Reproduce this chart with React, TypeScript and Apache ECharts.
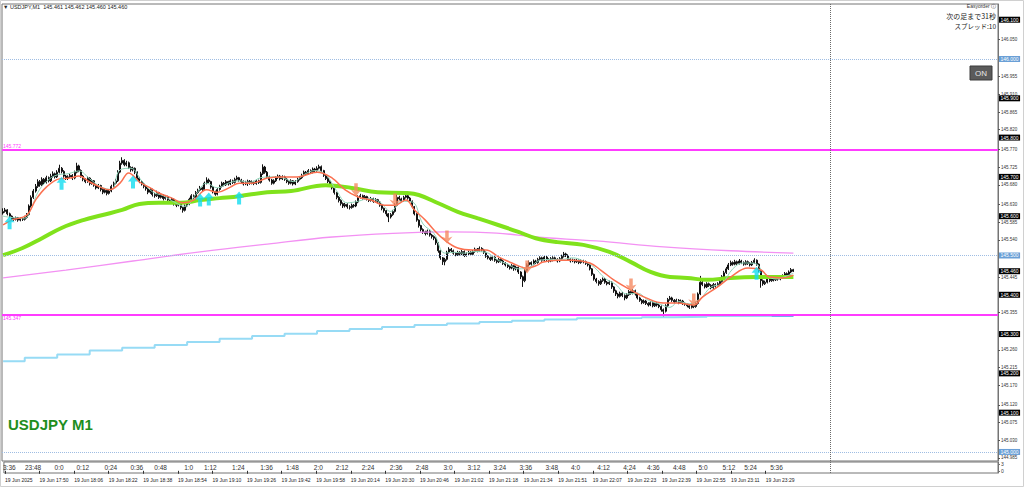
import React, { useEffect, useRef } from "react";
import * as echarts from "echarts";

// prices in thousandths above 145.000
const firstOpen = 608;
const closes = [
612,616,606,600,594,592,596,590,594,592,
597,604,626,648,664,676,688,680,694,686,
698,690,702,708,700,712,722,714,702,696,
700,704,697,712,728,716,702,694,688,697,
683,690,679,672,678,668,661,666,658,664,
676,684,690,712,735,742,731,736,724,718,
722,712,697,688,682,676,670,661,668,655,
652,660,648,654,645,650,641,636,643,632,
628,634,622,615,626,631,643,652,648,660,
666,672,668,684,692,688,674,662,656,668,
676,684,680,688,682,690,686,694,698,692,
688,682,686,689,684,687,683,690,686,
708,725,712,700,692,684,690,698,702,695,
700,694,688,684,690,682,688,694,698,704,
712,708,716,712,720,716,722,726,716,704,
696,688,680,672,660,648,640,632,626,630,
624,622,628,626,636,648,652,646,650,644,
640,645,638,642,636,628,620,614,606,598,
604,612,628,648,644,640,648,652,646,638,
624,606,590,576,566,560,556,562,552,548,
544,532,512,494,484,490,508,516,512,506,
502,508,504,510,500,504,508,503,510,
516,512,518,514,508,498,494,490,496,488,
484,490,486,480,476,472,468,474,466,470,
458,446,436,462,476,482,478,486,482,490,
494,488,496,490,486,492,494,490,486,
492,498,504,500,490,486,488,484,487,482,
486,484,480,476,466,452,440,434,428,436,
440,432,428,432,420,410,402,396,404,398,
392,400,408,404,410,402,392,386,380,384,
378,374,380,372,378,374,370,362,358,
372,388,392,386,382,386,380,384,378,376,
372,368,374,370,378,402,432,426,420,428,
424,418,426,422,428,434,446,456,466,476,
482,478,484,480,486,482,478,484,480,476,
482,488,478,462,436,428,432,440,436,442,
438,442,440,444,448,454,450,458,464,460];
const highs = [
620,621,618,609,602,597,599,598,597,596,
601,608,630,653,669,682,694,692,699,697,
703,701,708,714,711,717,731,725,717,705,
704,708,707,716,736,731,719,705,697,701,
699,694,692,682,682,680,671,670,668,668,
680,688,695,717,741,750,745,741,739,727,
726,724,714,700,691,685,679,672,672,670,
659,665,662,658,656,654,652,644,647,645,
635,638,636,624,630,635,647,656,655,664,
670,677,675,688,699,696,690,676,665,672,
680,688,687,692,690,694,693,698,703,700,
695,691,690,693,692,691,690,694,693,
713,732,728,715,703,695,694,702,706,705,
704,703,697,691,694,692,692,698,702,708,
716,715,720,719,724,723,727,731,729,718,
707,699,691,683,674,662,651,643,635,634,
633,628,632,631,640,653,657,655,654,652,
647,649,647,646,644,638,630,622,616,608,
608,616,633,660,652,647,652,658,655,649,
640,626,608,592,578,569,563,566,564,555,
551,546,534,514,496,494,512,521,519,515,
509,512,511,514,513,508,512,511,514,
520,519,523,521,517,510,501,497,500,498,
491,494,493,489,483,479,475,478,476,474,
472,460,449,466,480,487,485,490,489,494,
498,497,500,499,493,496,498,497,493,
496,502,509,507,503,493,492,491,491,490,
490,489,487,483,478,468,454,443,437,440,
444,443,435,436,434,422,413,405,408,407,
401,404,412,411,414,413,405,395,389,388,
387,381,384,383,382,381,377,373,365,
376,392,397,395,389,390,389,388,387,381,
379,375,378,377,382,406,448,436,429,432,
431,427,430,429,432,438,450,461,471,481,
487,485,489,487,491,489,485,488,487,483,
486,493,490,480,464,439,436,444,443,446,
445,446,445,448,452,458,457,462,468,466];
const lows = [
604,609,602,596,590,588,589,586,587,588,
589,594,601,622,644,660,672,675,677,681,
683,686,687,698,696,697,709,709,698,692,
692,697,692,694,709,712,698,689,684,685,
678,680,675,668,669,663,656,658,653,655,
661,673,681,687,709,731,727,727,720,713,
714,707,693,684,678,671,665,656,657,650,
647,649,644,645,640,642,636,631,633,627,
623,625,617,609,612,623,628,640,644,645,
657,663,664,665,681,684,670,658,652,653,
665,673,676,677,678,679,682,683,691,688,
684,678,679,677,680,681,679,680,682,
683,705,708,696,688,680,681,687,695,691,
692,690,684,680,681,678,679,685,691,695,
701,704,705,708,709,712,713,719,712,700,
692,684,676,668,655,643,635,627,621,622,
619,617,619,622,623,633,645,642,643,640,
636,637,634,635,632,624,615,609,600,585,
594,601,609,625,640,636,637,645,642,634,
620,602,586,571,561,555,551,553,548,543,
539,527,507,489,476,475,487,505,508,502,
498,499,500,501,496,497,501,499,500,
507,508,509,510,504,494,490,486,487,484,
480,481,482,476,472,468,464,465,461,462,
453,440,420,432,459,472,474,475,478,479,
487,484,485,486,482,483,485,486,482,
483,489,495,496,486,482,483,480,481,478,
479,480,476,472,462,448,436,429,423,425,
433,428,424,425,415,405,397,391,393,394,
386,389,397,400,401,398,388,382,376,377,
374,370,371,368,369,370,366,357,344,
355,369,385,382,378,379,376,377,374,372,
368,364,365,366,367,375,399,422,416,417,
420,414,415,418,419,425,431,443,453,463,
473,474,475,476,477,478,474,475,476,472,
473,479,474,457,418,423,425,429,432,433,
434,435,436,437,441,445,446,447,455,458];

// indicator readings: [bar, thousandths above 145]
const maFast = [[0,578],[4,590],[11,603],[15,641],[20,674],[26,695],[31,697],[35,702],[40,687],[45,674],[49,667],[54,684],[58,710],[63,687],[68,672],[72,659],[78,646],[83,634],[88,641],[94,667],[99,661],[105,674],[109,684],[115,684],[122,697],[129,700],[136,700],[145,712],[152,697],[158,667],[164,649],[170,641],[176,628],[181,628],[186,641],[190,616],[195,590],[199,565],[204,539],[210,519],[217,514],[223,514],[229,496],[235,481],[242,468],[247,476],[249,483],[256,488],[263,488],[271,481],[276,463],[282,438],[290,412],[297,392],[305,379],[311,379],[319,374],[323,394],[330,420],[336,445],[344,468],[350,463],[354,445],[360,443],[365,450]];
const maPale = [[0,600],[5,596],[10,595],[13,620],[16,660],[20,688],[25,705],[30,708],[35,715],[40,695],[45,675],[50,668],[54,718],[59,722],[64,690],[69,662],[74,652],[79,636],[84,625],[89,655],[94,684],[99,672],[104,684],[109,690],[114,686],[119,698],[124,700],[129,698],[134,688],[139,706],[144,716],[149,706],[154,665],[159,634],[164,638],[169,645],[174,636],[179,612],[184,638],[189,636],[194,580],[199,556],[204,506],[208,508],[213,506],[218,510],[223,508],[228,490],[233,478],[238,466],[243,470],[248,488],[253,490],[258,490],[263,494],[268,486],[273,470],[278,442],[283,426],[288,402],[293,404],[298,386],[303,377],[308,368],[312,383],[317,377],[322,390],[327,420],[332,428],[337,466],[342,481],[347,480],[352,452],[357,440],[362,448],[365,455]];
const maSlow = [[0,501],[9,519],[18,544],[27,570],[37,590],[46,603],[55,616],[63,631],[72,634],[82,634],[91,641],[100,646],[109,651],[122,661],[133,664],[149,679],[161,672],[173,661],[186,659],[192,654],[201,633],[210,611],[219,595],[229,577],[238,560],[246,544],[256,534],[268,527],[280,509],[290,483],[299,458],[308,445],[316,443],[325,438],[336,443],[348,445],[358,445],[365,445]];
const maLong = [[0,443],[29,463],[60,486],[91,509],[122,529],[152,547],[183,557],[205,560],[228,557],[246,547],[274,537],[305,522],[336,512],[365,506]];
const htfLine = [[0,231],[10,240],[25,248],[40,258],[55,265],[70,272],[85,280],[100,288],[115,295],[130,301],[145,308],[160,313],[175,318],[190,323],[205,327],[220,331],[235,334],[250,337],[265,340],[280,341],[295,343],[310,344],[325,346],[365,346]];
const htfCurrent = [[355,347],[365,347]];
const buyArrows = [[3,583],[27,684],[60,687],[91,641],[95,644],[109,646],[348,455]];
const sellArrows = [[163,667],[181,641],[205,547],[242,471],[290,425],[319,387]];

const priceTicks = [144.985,145.030,145.075,145.120,145.170,145.215,145.260,145.355,145.445,145.540,145.585,145.630,145.680,145.725,145.770,145.820,145.865,145.910,145.955,146.050];
const roundLevels = [146.1,145.9,145.8,145.7,145.6,145.4,145.3,145.2,145.1];
const dottedLevels = [146.0,145.5,145.0];
const bidPrice = 145.46;
const bandHigh = 145.772;
const bandLow = 145.347;
const nowBar = 382;

const slotCount = 460;
const dateTickStep = 16;
const dateLabels = ["19 Jun 2025","19 Jun 17:50","19 Jun 18:06","19 Jun 18:22","19 Jun 18:38","19 Jun 18:54","19 Jun 19:10","19 Jun 19:26","19 Jun 19:42","19 Jun 19:58","19 Jun 20:14","19 Jun 20:30","19 Jun 20:46","19 Jun 21:02","19 Jun 21:18","19 Jun 21:34","19 Jun 21:51","19 Jun 22:07","19 Jun 22:23","19 Jun 22:39","19 Jun 22:55","19 Jun 23:11","19 Jun 23:29"];
const subLabelBars = [2,13,25,36,49,61,72,85,95,108,121,133,145,156,168,181,193,205,217,229,241,253,264,277,289,300,312,323,335,345,357];
const subLabelTexts = ["3:36","23:48","0:0","0:12","0:24","0:36","0:48","1:0","1:12","1:24","1:36","1:48","2:0","2:12","2:24","2:36","2:48","3:0","3:12","3:24","3:36","3:48","4:0","4:12","4:24","4:36","4:48","5:0","5:12","5:24","5:36"];

const PX = (v: number) => 145 + v / 1000;
const FONT = "Liberation Sans";

export default function App() {
  const ref = useRef<HTMLDivElement>(null);
  useEffect(() => {
    if (!ref.current) return;
    const chart = echarts.init(ref.current, undefined, { renderer: "svg" });
    const cats = Array.from({ length: slotCount }, (_, i) => String(i));
    const dateCats = cats.map((_, i) => (i % dateTickStep === 0 && dateLabels[i / dateTickStep]) ? dateLabels[i / dateTickStep] : "");
    const subCats = cats.map(() => "");
    subLabelBars.forEach((b, k) => { subCats[b] = subLabelTexts[k]; });
    const candles = closes.map((c, i) => [PX(i === 0 ? firstOpen : closes[i - 1]), PX(c), PX(lows[i]), PX(highs[i])]);
    const conv = (arr: number[][]) => arr.map(([b, v]) => [b, PX(v)]);
    const showNonEmpty = (_: number, v: string) => v !== "";
    const upArrow = "path://M5,0 L10,5.5 L7,5.5 L7,12 L3,12 L3,5.5 L0,5.5 Z";
    const downArrow = "path://M5,12 L10,5.5 L6.6,6.8 L6.6,0 L3.4,0 L3.4,6.8 L0,5.5 Z";
    const boxLabel = (bg: string) => ({
      show: true, position: "end", distance: 1, formatter: (p: any) => Number(p.value).toFixed(3),
      color: "#fff", backgroundColor: bg, padding: [1, 1.5, 0, 1.5], fontSize: 5, fontFamily: FONT,
    });
    const markData: any[] = [];
    roundLevels.forEach((v) => markData.push({ yAxis: v, lineStyle: { color: "rgba(0,0,0,0)", width: 0 }, label: boxLabel("#000") }));
    markData.push({ yAxis: bidPrice, lineStyle: { color: "rgba(0,0,0,0)", width: 0 }, label: boxLabel("#000") });
    dottedLevels.forEach((v) => markData.push({ yAxis: v, lineStyle: { color: "#9fbde3", width: 1, type: "dotted" }, label: boxLabel("#6a9fd6") }));
    markData.push({ yAxis: bandHigh, lineStyle: { color: "#ff3cff", width: 2, type: "solid" }, label: { show: true, position: "insideStartTop", distance: 1, formatter: bandHigh.toFixed(3), color: "#ff3cff", fontSize: 5, fontFamily: FONT } });
    markData.push({ yAxis: bandLow, lineStyle: { color: "#ff3cff", width: 2, type: "solid" }, label: { show: true, position: "insideStartBottom", distance: 1, formatter: bandLow.toFixed(3), color: "#ff3cff", fontSize: 5, fontFamily: FONT } });
    markData.push({ xAxis: nowBar, lineStyle: { color: "#6a6a6a", width: 1, type: "dotted" }, label: { show: false } });

    const option: any = {
      animation: false,
      backgroundColor: "#ffffff",
      textStyle: { fontFamily: FONT },
      grid: [
        { left: 2, right: 26, top: 4, bottom: 26, show: true, borderColor: "#747474", borderWidth: 1 },
        { left: 2, right: 26, top: 462, height: 11, show: true, borderColor: "#747474", borderWidth: 1 },
      ],
      xAxis: [
        { type: "category", gridIndex: 0, data: cats, boundaryGap: true, axisLine: { show: false }, axisTick: { show: false }, axisLabel: { show: false }, splitLine: { show: false } },
        { type: "category", gridIndex: 1, data: dateCats, boundaryGap: true, position: "bottom", axisLine: { show: false },
          axisTick: { show: true, alignWithLabel: true, interval: showNonEmpty, length: 3, lineStyle: { color: "#333" } },
          axisLabel: { interval: showNonEmpty, align: "left", fontSize: 5, margin: 4, color: "#222", fontFamily: FONT }, splitLine: { show: false } },
        { type: "category", gridIndex: 1, data: subCats, boundaryGap: true, position: "top", axisLine: { show: false }, axisTick: { show: false },
          axisLabel: { inside: true, interval: showNonEmpty, fontSize: 6.5, margin: 2, color: "#333", fontFamily: FONT }, splitLine: { show: false } },
      ],
      yAxis: [
        { type: "value", gridIndex: 0, position: "right", min: 144.977, max: 146.14, scale: true, splitLine: { show: false },
          axisLine: { show: true, lineStyle: { color: "#747474" } },
          axisTick: { show: true, length: 2, customValues: priceTicks, lineStyle: { color: "#555" } },
          axisLabel: { customValues: priceTicks, fontSize: 4.5, margin: 3, color: "#333", fontFamily: FONT, formatter: (v: number) => v.toFixed(3) } },
        { type: "value", gridIndex: 1, position: "right", min: -1, max: 4, splitLine: { show: false },
          axisLine: { show: true, lineStyle: { color: "#747474" } },
          axisTick: { show: true, length: 2, customValues: [0, 3] },
          axisLabel: { customValues: [0, 3], fontSize: 5, margin: 3, color: "#333", fontFamily: FONT } },
      ],
      series: [
        { type: "candlestick", xAxisIndex: 0, yAxisIndex: 0, data: candles, barWidth: 1.5,
          itemStyle: { color: "#ffffff", color0: "#111111", borderColor: "#111111", borderColor0: "#111111", borderWidth: 1 },
          markLine: { silent: true, symbol: "none", animation: false, data: markData } },
        { type: "line", name: "htf", data: conv(htfLine), step: "end", showSymbol: false, symbol: "none", lineStyle: { color: "#97dbf5", width: 2 } },
        { type: "line", name: "htfNow", data: conv(htfCurrent), showSymbol: false, symbol: "none", lineStyle: { color: "#6cb2ec", width: 3 } },
        { type: "line", name: "long", data: conv(maLong), smooth: 0.4, showSymbol: false, symbol: "none", lineStyle: { color: "#f391f3", width: 1.3 } },
        { type: "line", name: "slow", data: conv(maSlow), smooth: 0.4, showSymbol: false, symbol: "none", lineStyle: { color: "#80e21c", width: 4 } },
        { type: "line", name: "pale", data: conv(maPale), smooth: 0.4, showSymbol: false, symbol: "none", lineStyle: { color: "#8fd4b8", width: 1 } },
        { type: "line", name: "fast", data: conv(maFast), smooth: 0.4, showSymbol: false, symbol: "none", lineStyle: { color: "#fb7050", width: 1.5 } },
        { type: "scatter", name: "buy", data: conv(buyArrows), symbol: upArrow, symbolSize: [10, 13], symbolKeepAspect: false, itemStyle: { color: "#12dcf0" }, z: 5 },
        { type: "scatter", name: "sell", data: conv(sellArrows), symbol: downArrow, symbolSize: [11, 13], symbolKeepAspect: false, itemStyle: { color: "#f58a62" }, z: 5 },
        { type: "line", xAxisIndex: 1, yAxisIndex: 1, data: [], markLine: { silent: true, symbol: "none", data: [{ xAxis: nowBar, lineStyle: { color: "#6a6a6a", width: 1, type: "dotted" }, label: { show: false } }] } },
      ],
      graphic: [
        { type: "text", x: 3, y: 4, style: { text: "▼ USDJPY,M1  145.461 145.462 145.460 145.460", fontSize: 5.5, fontFamily: FONT, fill: "#222" } },
        { type: "text", x: 996, y: 3, style: { text: "Easyorder ⓘ", align: "right", fontSize: 5, fontFamily: FONT, fill: "#333" } },
        { type: "text", x: 996, y: 12, style: { text: "次の足まで31秒", align: "right", fontSize: 7, fontFamily: "Noto Sans CJK JP", fill: "#222" } },
        { type: "text", x: 996, y: 23, style: { text: "スプレッド:10", align: "right", fontSize: 6.5, fontFamily: "Noto Sans CJK JP", fill: "#222" } },
        { type: "rect", shape: { x: 970, y: 66, width: 22, height: 14 }, style: { fill: "#5b5b5b", stroke: "#3d3d3d", lineWidth: 1 } },
        { type: "text", x: 981, y: 73, style: { text: "ON", align: "center", verticalAlign: "middle", fontSize: 8, fontFamily: FONT, fill: "#e6e6e6" } },
        { type: "text", x: 8, y: 417, style: { text: "USDJPY M1", fontSize: 15, fontWeight: "bold", fontFamily: FONT, fill: "#1e8e1e" } },
        { type: "rect", shape: { x: 0.5, y: 0.5, width: 1023, height: 486 }, style: { fill: "none", stroke: "#d0d0d0", lineWidth: 1 }, silent: true },
      ],
    };
    chart.setOption(option);
    return () => chart.dispose();
  }, []);
  return <div ref={ref} style={{ position: "fixed", left: 0, top: 0, width: 1024, height: 487, background: "#fff" }} />;
}
